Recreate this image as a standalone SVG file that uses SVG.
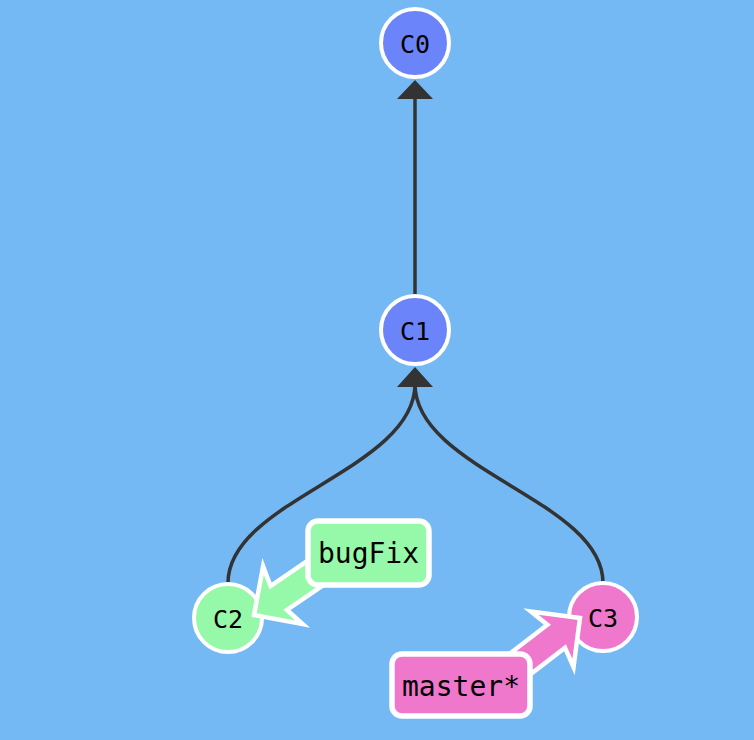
<svg xmlns="http://www.w3.org/2000/svg" width="754" height="740" viewBox="0 0 754 740">
<defs>
<style>
.node circle{stroke:#fff;stroke-width:4}
.node text{font-family:"DejaVu Sans Mono",monospace;font-size:25px;fill:#000;text-anchor:middle;dominant-baseline:central}
.edge{fill:none;stroke:#333;stroke-width:3.5}
.label rect{stroke:#fff;stroke-width:5.5}
.label text{font-family:"DejaVu Sans Mono",monospace;font-size:28px;fill:#000;text-anchor:middle;dominant-baseline:central}
.label polygon{stroke:#fff;stroke-width:4.5;stroke-linejoin:miter}
</style>
</defs>
<rect width="754" height="740" fill="#75b9f4"/>
<g id="connectors">
<path class="edge" d="M415,295 L415,96"/>
<polygon points="415,80 433,99 397,99" fill="#333"/>
<path class="edge" d="M228,583 C228,500 415,470 415,384"/>
<path class="edge" d="M603,583 C603,500 415,470 415,384"/>
<polygon points="415,367 433,387 397,387" fill="#333"/>
</g>
<g id="C0" class="node"><circle cx="415" cy="43" r="34" fill="#6c84f9"/><text x="415" y="44">C0</text></g>
<g id="C1" class="node"><circle cx="415" cy="330" r="34" fill="#6c84f9"/><text x="415" y="331">C1</text></g>
<g id="C2" class="node"><circle cx="228" cy="618" r="34" fill="#96f9a9"/><text x="228" y="619">C2</text></g>
<g id="C3" class="node"><circle cx="603" cy="617" r="34" fill="#ef77cc"/><text x="603" y="618">C3</text></g>
<g id="bugFix" class="label">
<polygon transform="translate(254,615) rotate(145.6)" points="0,0 -35,-35 -30,-14.5 -95,-14.5 -95,14.5 -30,14.5 -35,35" fill="#96f9a9"/>
<rect x="308" y="521" width="121" height="64" rx="10" fill="#96f9a9"/>
<text x="368.5" y="553">bugFix</text>
</g>
<g id="master" class="label">
<polygon transform="translate(580,618) rotate(-37.5)" points="0,0 -35,-35 -30,-14.5 -95,-14.5 -95,14.5 -30,14.5 -35,35" fill="#ef77cc"/>
<rect x="392" y="654" width="138" height="62" rx="10" fill="#ef77cc"/>
<text x="461" y="686">master*</text>
</g>
</svg>
